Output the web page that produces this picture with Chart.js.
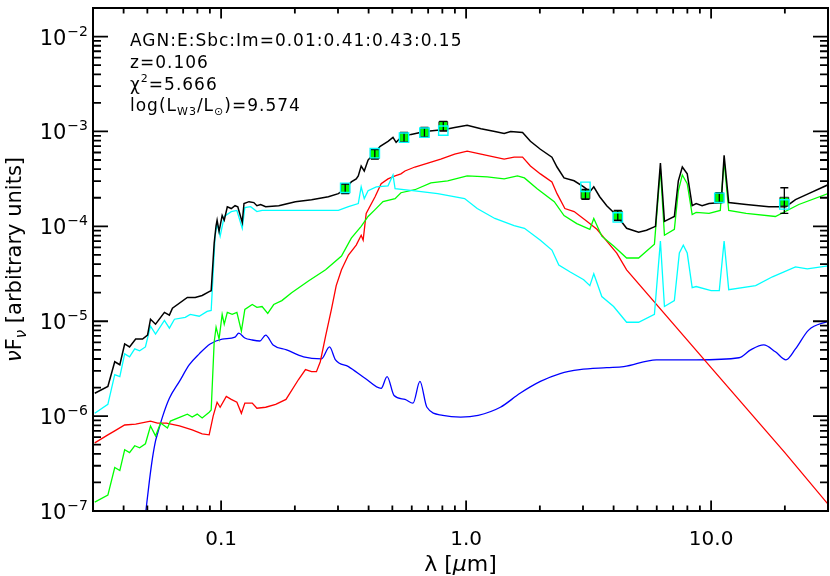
<!DOCTYPE html>
<html>
<head>
<meta charset="utf-8">
<script src="https://cdn.jsdelivr.net/npm/chart.js@4.4.1/dist/chart.umd.min.js"></script>
<style>
html, body { margin: 0; padding: 0; background: #fff; overflow: hidden; }
#wrap { position: relative; width: 836px; height: 576px; }
</style>
</head>
<body>
<div id="wrap"><canvas id="sed" width="836" height="576"></canvas></div>
<script>
// SED fit: AGN / E / Sbc / Im templates, rest-frame wavelength (um) vs nuFnu

const xMin = 0.03, xMax = 30, yMin = 1e-7, yMax = 0.02;
const xTickValues = [0.1, 1, 10];
const xTickLabels = ['0.1', '1.0', '10.0'];
const yTickExps = [-7, -6, -5, -4, -3, -2];

// total model (black)
const totWave = [0.0305,0.0345,0.0368,0.0386,0.0404,0.0423,0.0448,0.0478,0.0501,0.0515,
  0.0540,0.0587,0.0615,0.0633,0.0728,0.0784,0.0837,0.0894,0.0911,0.0937,
  0.0954,0.0963,0.0981,0.101,0.103,0.106,0.110,0.114,0.117,0.122,
  0.124,0.130,0.136,0.140,0.145,0.152,0.172,0.201,0.234,0.274,
  0.301,0.321,0.340,0.356,0.363,0.373,0.384,0.398,0.418,0.446,
  0.480,0.503,0.518,0.542,0.596,0.679,0.818,0.898,1.01,1.15,
  1.31,1.43,1.52,1.70,1.83,2.01,2.24,2.35,2.51,2.76,
  3.02,3.20,3.32,3.51,3.75,4.12,4.52,5.06,5.45,5.93,
  6.21,6.45,7.08,7.35,7.63,7.99,8.37,8.69,9.19,9.81,
  11.0,11.3,11.8,13.9,17.2,20.2,22.1,25.0,30.0];
const totFlux = [1.74e-6,2.05e-6,3.74e-6,3.48e-6,5.76e-6,5.36e-6,6.49e-6,6.49e-6,7.15e-6,1.05e-5,
  9.31e-6,1.24e-5,1.16e-5,1.37e-5,1.78e-5,1.78e-5,1.87e-5,2.05e-5,2.10e-5,6.65e-5,
  1.02e-4,1.16e-4,8.87e-5,1.30e-4,1.16e-4,1.61e-4,1.54e-4,1.65e-4,1.61e-4,1.10e-4,
  1.74e-4,1.82e-4,1.78e-4,1.65e-4,1.70e-4,1.61e-4,1.65e-4,1.82e-4,1.91e-4,2.05e-4,
  2.21e-4,2.49e-4,2.94e-4,3.16e-4,3.40e-4,4.32e-4,3.83e-4,4.99e-4,5.76e-4,6.98e-4,
  7.87e-4,8.66e-4,7.68e-4,8.66e-4,9.31e-4,1.00e-3,1.05e-3,1.10e-3,1.16e-3,1.07e-3,
  1.00e-3,9.53e-4,1.00e-3,9.77e-4,7.87e-4,6.49e-4,5.36e-4,4.22e-4,3.24e-4,3.02e-4,
  2.61e-4,2.32e-4,2.61e-4,2.05e-4,1.65e-4,1.30e-4,9.53e-5,8.66e-5,9.09e-5,1.00e-4,
  4.64e-4,1.13e-4,1.27e-4,3.02e-4,4.22e-4,3.57e-4,1.65e-4,1.74e-4,1.65e-4,1.74e-4,
  1.78e-4,5.62e-4,1.78e-4,1.70e-4,1.61e-4,1.61e-4,1.91e-4,2.21e-4,2.74e-4];

// Sbc (cyan)
const sbcWave = [0.0305,0.0345,0.0368,0.0386,0.0404,0.0423,0.0444,0.0465,0.0491,0.0515,
  0.0540,0.0587,0.0615,0.0645,0.0714,0.0748,0.0814,0.0877,0.0911,0.0945,
  0.0963,0.0991,0.103,0.110,0.116,0.122,0.125,0.132,0.140,0.147,
  0.189,0.301,0.331,0.363,0.373,0.384,0.398,0.430,0.480,0.503,
  0.513,0.618,0.766,0.986,1.11,1.31,1.57,1.73,2.01,2.24,
  2.39,2.65,3.02,3.20,3.32,3.58,4.00,4.52,5.06,5.87,
  6.21,6.45,7.08,7.42,7.70,7.99,8.37,8.69,10.0,10.8,
  11.3,11.8,15.2,17.8,22.1,24.7,30.0];
const sbcFlux = [1.07e-6,1.33e-6,2.74e-6,2.61e-6,4.53e-6,4.22e-6,5.11e-6,4.87e-6,5.36e-6,8.87e-6,
  7.32e-6,1.02e-5,8.45e-6,1.05e-5,1.10e-5,1.18e-5,1.13e-5,1.27e-5,1.30e-5,7.87e-5,
  1.07e-4,7.87e-5,1.27e-4,1.43e-4,1.47e-4,9.53e-5,1.58e-4,1.61e-4,1.43e-4,1.47e-4,
  1.47e-4,1.47e-4,1.61e-4,1.74e-4,2.61e-4,1.96e-4,2.37e-4,2.61e-4,2.67e-4,3.48e-4,
  2.49e-4,2.37e-4,2.21e-4,1.96e-4,1.54e-4,1.21e-4,1.02e-4,9.53e-5,7.15e-5,5.62e-5,
  3.92e-5,3.32e-5,2.74e-5,2.37e-5,3.16e-5,1.82e-5,1.43e-5,9.76e-6,9.76e-6,1.18e-5,
  6.98e-5,1.43e-5,1.65e-5,5.23e-5,6.34e-5,5.23e-5,2.26e-5,2.32e-5,2.10e-5,2.10e-5,
  6.98e-5,2.15e-5,2.37e-5,2.94e-5,3.74e-5,3.57e-5,3.83e-5];

// Im (green)
const imWave = [0.0305,0.0345,0.0368,0.0386,0.0404,0.0423,0.0444,0.0465,0.0491,0.0515,
  0.0540,0.0566,0.0604,0.0621,0.0728,0.0762,0.0799,0.0837,0.0894,0.0911,
  0.0937,0.0954,0.0981,0.101,0.103,0.106,0.111,0.116,0.121,0.125,
  0.134,0.140,0.147,0.155,0.164,0.177,0.194,0.228,0.267,0.310,
  0.340,0.373,0.398,0.425,0.458,0.513,0.542,0.618,0.718,0.841,
  1.01,1.22,1.43,1.62,1.73,1.95,2.29,2.51,2.83,3.20,
  3.32,3.58,4.00,4.52,5.06,5.87,6.21,6.45,7.08,7.35,
  7.63,7.99,8.37,8.69,9.81,10.9,11.3,11.8,13.9,18.3,
  22.8,30.0];
const imFlux = [1.24e-7,1.47e-7,2.87e-7,2.67e-7,4.42e-7,4.12e-7,4.87e-7,4.64e-7,5.11e-7,7.87e-7,
  6.19e-7,8.45e-7,7.50e-7,8.87e-7,1.05e-6,9.77e-7,1.05e-6,9.55e-7,1.10e-6,1.16e-6,
  6.04e-6,8.66e-6,6.49e-6,1.18e-5,9.31e-6,1.24e-5,1.18e-5,1.24e-5,7.87e-6,1.33e-5,
  1.50e-5,1.40e-5,1.43e-5,1.21e-5,1.50e-5,1.65e-5,2.00e-5,2.67e-5,3.48e-5,4.87e-5,
  7.50e-5,1.00e-4,1.27e-4,1.50e-4,1.82e-4,1.96e-4,2.26e-4,2.43e-4,2.87e-4,3.02e-4,
  3.40e-4,3.32e-4,3.16e-4,3.40e-4,3.24e-4,2.49e-4,1.82e-4,1.30e-4,1.07e-4,9.31e-5,
  1.21e-4,7.87e-5,6.19e-5,4.64e-5,4.64e-5,6.49e-5,4.02e-4,8.06e-5,9.31e-5,2.37e-4,
  3.48e-4,2.81e-4,1.33e-4,1.40e-4,1.37e-4,1.47e-4,4.87e-4,1.47e-4,1.37e-4,1.27e-4,
  1.70e-4,2.21e-4];

// E (red)
const ellWave = [0.0305,0.0345,0.0368,0.0404,0.0448,0.0515,0.0550,0.0598,0.0676,0.0762,
  0.0837,0.0894,0.0928,0.0963,0.0991,0.105,0.110,0.116,0.121,0.125,
  0.134,0.140,0.152,0.167,0.184,0.207,0.221,0.234,0.245,0.254,
  0.267,0.282,0.295,0.310,0.331,0.356,0.373,0.380,0.391,0.425,
  0.450,0.480,0.513,0.542,0.563,0.618,0.698,0.788,0.898,1.01,
  1.15,1.43,1.57,1.70,1.83,2.01,2.24,2.35,2.53,2.76,
  3.11,3.42,3.75,4.12,4.52,10.0,20.0,30.0];
const ellFlux = [5.23e-7,6.34e-7,6.98e-7,8.06e-7,8.25e-7,8.87e-7,8.45e-7,8.45e-7,7.87e-7,7.15e-7,
  6.49e-7,6.34e-7,1.00e-6,1.40e-6,1.24e-6,1.61e-6,1.50e-6,1.40e-6,1.07e-6,1.37e-6,
  1.37e-6,1.21e-6,1.24e-6,1.33e-6,1.50e-6,2.43e-6,3.09e-6,2.94e-6,2.94e-6,3.74e-6,
  6.98e-6,1.33e-5,2.37e-5,3.48e-5,4.99e-5,6.34e-5,8.06e-5,7.15e-5,1.37e-4,2.05e-4,
  2.81e-4,3.16e-4,3.40e-4,3.57e-4,3.83e-4,4.22e-4,4.64e-4,5.11e-4,5.76e-4,6.19e-4,
  5.76e-4,5.11e-4,5.36e-4,5.36e-4,4.32e-4,3.57e-4,2.94e-4,2.21e-4,1.54e-4,1.43e-4,
  1.13e-4,9.31e-5,6.98e-5,5.23e-5,3.48e-5,3.24e-6,4.12e-7,1.18e-7];

// AGN (blue)
const agnWave = [0.0491,0.0510,0.0525,0.0540,0.0550,0.0576,0.0615,0.0676,0.0742,0.0814,
  0.0902,0.101,0.114,0.118,0.125,0.134,0.144,0.152,0.163,0.185,
  0.217,0.257,0.277,0.293,0.331,0.388,0.450,0.476,0.508,0.563,
  0.607,0.648,0.692,0.803,0.950,1.12,1.38,1.66,2.01,2.42,
  2.91,3.75,4.40,5.98,8.69,13.0,14.5,16.4,18.3,20.2,
  22.1,25.0,30.0];
const agnFlux = [9.08e-8,2.10e-7,3.65e-7,5.49e-7,6.49e-7,9.76e-7,1.54e-6,2.32e-6,3.48e-6,4.53e-6,
  5.76e-6,6.49e-6,6.81e-6,7.50e-6,6.65e-6,6.34e-6,6.19e-6,7.15e-6,5.62e-6,4.99e-6,
  4.22e-6,4.02e-6,5.36e-6,3.92e-6,3.32e-6,2.49e-6,1.96e-6,2.61e-6,1.65e-6,1.50e-6,
  1.37e-6,2.32e-6,1.24e-6,1.02e-6,9.77e-7,1.02e-6,1.24e-6,1.74e-6,2.32e-6,2.81e-6,
  3.09e-6,3.24e-6,3.32e-6,3.92e-6,3.92e-6,4.12e-6,4.99e-6,5.62e-6,4.76e-6,3.92e-6,
  5.11e-6,8.06e-6,1.00e-5];

// photometry: observed (green squares + error bars) and model (cyan squares)
const obsWave = [0.321, 0.424, 0.558, 0.676, 0.807, 3.07, 4.16, 10.8, 19.9];
const obsFlux = [2.49e-4, 5.76e-4, 8.66e-4, 9.76e-4, 1.14e-3, 2.17e-4, 1.30e-4, 2.00e-4, 1.82e-4];
const obsLow  = [2.21e-4, 5.11e-4, 7.68e-4, 8.66e-4, 1.01e-3, 1.93e-4, 1.15e-4, 1.78e-4, 1.37e-4];
const obsHigh = [2.81e-4, 6.49e-4, 9.76e-4, 1.10e-3, 1.28e-3, 2.45e-4, 1.47e-4, 2.26e-4, 2.55e-4];
const modFlux = [2.55e-4, 5.90e-4, 8.60e-4, 9.70e-4, 1.02e-3, 2.61e-4, 1.24e-4, 2.00e-4, 1.70e-4];

const FONT = '"DejaVu Sans", "Liberation Sans", sans-serif';

function pts(xs, ys) {
  return xs.map((v, i) => ({x: v, y: ys[i]}));
}

function logSteps(lo, hi) {
  const out = [];
  for (let e = Math.floor(Math.log10(lo)); e <= Math.ceil(Math.log10(hi)); e++) {
    for (let m = 1; m < 10; m++) {
      const v = m * Math.pow(10, e);
      if (v >= lo * 0.9999 && v <= hi * 1.0001) out.push({v: v, major: m === 1});
    }
  }
  return out;
}

function rich(ctx, x, y, parts) {
  for (const p of parts) {
    ctx.font = p[1];
    ctx.fillText(p[0], x, y + (p[2] || 0));
    x += ctx.measureText(p[0]).width;
  }
  return x;
}

function richWidth(ctx, parts) {
  let w = 0;
  for (const p of parts) { ctx.font = p[1]; w += ctx.measureText(p[0]).width; }
  return w;
}

const OBS_INDEX = 1;

const errorBars = {
  id: 'errorBars',
  afterDatasetDraw(chart, args) {
    if (args.index !== OBS_INDEX) return;
    const ctx = chart.ctx, xs = chart.scales.x, ys = chart.scales.y;
    ctx.save();
    ctx.strokeStyle = '#000';
    ctx.lineWidth = 1.3;
    ctx.beginPath();
    obsWave.forEach((w, i) => {
      const px = xs.getPixelForValue(w);
      const y1 = ys.getPixelForValue(obsLow[i]);
      const y2 = ys.getPixelForValue(obsHigh[i]);
      ctx.moveTo(px, y1); ctx.lineTo(px, y2);
      ctx.moveTo(px - 4, y1); ctx.lineTo(px + 4, y1);
      ctx.moveTo(px - 4, y2); ctx.lineTo(px + 4, y2);
    });
    ctx.stroke();
    ctx.restore();
  }
};

const frame = {
  id: 'frame',
  afterDraw(chart) {
    const ctx = chart.ctx, a = chart.chartArea;
    const xs = chart.scales.x, ys = chart.scales.y;
    ctx.save();
    ctx.strokeStyle = '#000';
    ctx.lineWidth = 2;
    ctx.strokeRect(a.left, a.top, a.right - a.left, a.bottom - a.top);

    ctx.lineWidth = 1.8;
    ctx.beginPath();
    logSteps(xMin, xMax).forEach(t => {
      const px = xs.getPixelForValue(t.v);
      const len = t.major ? 10.5 : 5.5;
      ctx.moveTo(px, a.bottom); ctx.lineTo(px, a.bottom - len);
      ctx.moveTo(px, a.top); ctx.lineTo(px, a.top + len);
    });
    logSteps(yMin, yMax).forEach(t => {
      const py = ys.getPixelForValue(t.v);
      const len = t.major ? 15 : 8;
      ctx.moveTo(a.left, py); ctx.lineTo(a.left + len, py);
      ctx.moveTo(a.right, py); ctx.lineTo(a.right - len, py);
    });
    ctx.stroke();

    ctx.fillStyle = '#000';
    // x tick labels
    ctx.font = '20px ' + FONT;
    ctx.textAlign = 'center';
    ctx.textBaseline = 'alphabetic';
    xTickValues.forEach((v, i) => {
      ctx.fillText(xTickLabels[i], xs.getPixelForValue(v), 545);
    });
    // y tick labels 10^n
    ctx.textAlign = 'left';
    yTickExps.forEach(e => {
      const py = ys.getPixelForValue(Math.pow(10, e));
      const sup = '\u2212' + Math.abs(e);
      ctx.font = '14px ' + FONT;
      const ws = ctx.measureText(sup).width;
      const xsup = 88 - ws;
      ctx.fillText(sup, xsup, py - 1);
      ctx.font = '21px ' + FONT;
      const wb = ctx.measureText('10').width;
      ctx.fillText('10', xsup - 1 - wb, py + 8);
    });

    // axis titles
    ctx.textAlign = 'left';
    const xt = [['\u03bb [', '22px ' + FONT], ['\u03bc', 'italic 22px ' + FONT], ['m]', '22px ' + FONT]];
    const wxt = richWidth(ctx, xt);
    rich(ctx, (a.left + a.right) / 2 - wxt / 2, 571, xt);

    ctx.save();
    ctx.translate(21, (a.top + a.bottom) / 2);
    ctx.rotate(-Math.PI / 2);
    const yt = [['\u03bd', 'italic 21px ' + FONT], ['F', '21px ' + FONT],
      ['\u03bd', 'italic 15px ' + FONT, 5], [' [arbitrary units]', '21px ' + FONT]];
    const wyt = richWidth(ctx, yt);
    rich(ctx, -wyt / 2, 0, yt);
    ctx.restore();

    // fit annotation
    const f = '17px ' + FONT, fs = '11px ' + FONT;
    ctx.letterSpacing = '1px';
    rich(ctx, 130, 46, [['AGN:E:Sbc:Im=0.01:0.41:0.43:0.15', f]]);
    rich(ctx, 130, 68, [['z=0.106', f]]);
    rich(ctx, 130, 90, [['\u03c7', f], ['2', fs, -8], ['=5.666', f]]);
    rich(ctx, 130, 111, [['log(L', f], ['W3', fs, 4], ['/L', f], ['\u2299', fs, 4], [')=9.574', f]]);
    ctx.letterSpacing = '0px';
    ctx.restore();
  }
};

const lineSet = (label, xs, ys, color, width, extra) => Object.assign({
  label: label,
  data: pts(xs, ys),
  borderColor: color,
  backgroundColor: color,
  borderWidth: width,
  pointRadius: 0,
  fill: false,
  tension: 0
}, extra || {});

new Chart(document.getElementById('sed').getContext('2d'), {
  type: 'line',
  data: {
    datasets: [
      {
        label: 'model photometry',
        data: pts(obsWave, modFlux),
        showLine: false,
        pointStyle: 'rect',
        pointRadius: 6.6,
        backgroundColor: 'rgba(0,0,0,0)',
        borderColor: '#00ffff',
        borderWidth: 1.4
      },
      {
        label: 'observed',
        data: pts(obsWave, obsFlux),
        showLine: false,
        pointStyle: 'rect',
        pointRadius: 6.2,
        backgroundColor: '#00ff00',
        borderColor: '#2a2a2a',
        borderWidth: 1
      },
      lineSet('total', totWave, totFlux, '#000000', 1.5),
      lineSet('Sbc', sbcWave, sbcFlux, '#00ffff', 1.3),
      lineSet('Im', imWave, imFlux, '#00ff00', 1.3),
      lineSet('E', ellWave, ellFlux, '#ff0000', 1.3),
      lineSet('AGN', agnWave, agnFlux, '#0000ff', 1.3, {cubicInterpolationMode: 'monotone'})
    ]
  },
  options: {
    responsive: false,
    animation: false,
    events: [],
    layout: {padding: {left: 93, right: 3, top: 2, bottom: 65}},
    plugins: {legend: {display: false}, tooltip: {enabled: false}},
    scales: {
      x: {type: 'logarithmic', min: xMin, max: xMax, display: false},
      y: {type: 'logarithmic', min: yMin, max: yMax, display: false}
    }
  },
  plugins: [errorBars, frame]
});
</script>
</body>
</html>
